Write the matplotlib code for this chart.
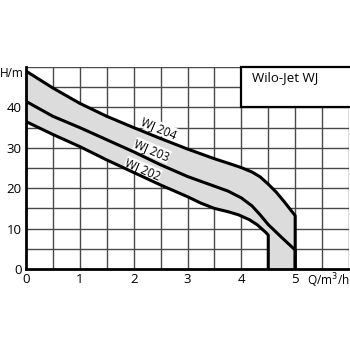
import matplotlib
matplotlib.use("Agg")
import matplotlib.pyplot as plt
from matplotlib.patches import Rectangle

# Data
q_204 = [0, 0.5, 1, 1.5, 2, 2.5, 3, 3.5, 3.8, 4, 4.2, 4.35, 4.5, 4.65, 4.8, 5]
h_204 = [49, 44.8, 41, 37.8, 35, 32.3, 29.7, 27.3, 26.0, 25.1, 24.0, 22.8, 21.0, 19.0, 16.6, 13.2]
q_203 = [0, 0.5, 1, 1.5, 2, 2.5, 3, 3.5, 3.75, 4, 4.2, 4.35, 4.5, 4.75, 5]
h_203 = [41.5, 37.8, 35, 32, 29, 25.8, 22.9, 20.5, 19.3, 17.6, 15.6, 13.4, 11.0, 7.8, 4.7]
q_202 = [0, 0.5, 1, 1.5, 2, 2.5, 3, 3.25, 3.5, 3.75, 3.95, 4.15, 4.3, 4.45, 4.5]
h_202 = [36.5, 33.3, 30.3, 27, 23.9, 20.8, 17.9, 16.3, 15.0, 14.2, 13.4, 12.2, 10.9, 9.1, 8.4]
x_ticks = [0, 1, 2, 3, 4, 5]
y_ticks = [0, 10, 20, 30, 40]
series_names = ["WJ 204", "WJ 203", "WJ 202"]
title_text = "Wilo-Jet WJ"

plt.rcParams['font.family'] = ['Open Sans', 'DejaVu Sans']

fig = plt.figure(figsize=(3.5, 3.5), dpi=100)
ax = fig.add_axes([0.0743, 0.2314, 0.9229, 0.5771])
ax.set_xlim(0, 6)
ax.set_ylim(0, 50)

# grid
for gx in [i * 0.5 for i in range(1, 13)]:
    ax.axvline(gx, color='#4a4a4a', lw=1.0, zorder=1)
for gy in range(5, 51, 5):
    ax.axhline(gy, color='#4a4a4a', lw=1.0, zorder=1)

# shaded band
poly_x = list(q_204) + [q_204[-1], q_202[-1]] + list(q_202[::-1])
poly_y = list(h_204) + [0, 0] + list(h_202[::-1])
ax.fill(poly_x, poly_y, color='#dcdcdc', zorder=2, lw=0)

lw = 2.2
for qs, hs in [(q_204, h_204), (q_203, h_203), (q_202, h_202)]:
    ax.plot(qs + [qs[-1]], hs + [0], color='black', lw=lw, zorder=4,
            solid_joinstyle='round', solid_capstyle='butt')

# curve labels
label_pos = [(2.47, 34.9), (2.34, 29.4), (2.17, 24.7)]
for name, (lx, ly) in zip(series_names, label_pos):
    ax.text(lx, ly, name, rotation=-23, ha='center', va='center', fontsize=8.5,
            zorder=3, bbox=dict(facecolor='white', edgecolor='none', pad=0.2))

# title box
ax.add_patch(Rectangle((4, 40), 2.2, 10, facecolor='white', edgecolor='black',
                       lw=1.6, zorder=5, clip_on=False))
ax.text(4.2, 47.3, title_text, ha='left', va='center', fontsize=9.5, zorder=6)

# spines and ticks
for s in ['top', 'right']:
    ax.spines[s].set_visible(False)
ax.spines['left'].set_linewidth(2)
ax.spines['bottom'].set_linewidth(2)
ax.spines['left'].set_zorder(7)
ax.spines['bottom'].set_zorder(7)
ax.set_xticks(x_ticks)
ax.set_yticks(y_ticks)
ax.tick_params(length=0, labelsize=9.5, pad=3)
ax.set_xticklabels([str(v) for v in x_ticks])
ax.set_yticklabels([str(v) for v in y_ticks])

ax.text(-0.04, 48.5, "H/m", ha='right', va='center', fontsize=8.5)
ax.text(5.22, -2.9, "Q/m$^3$/h", ha='left', va='center', fontsize=8.5)

fig.savefig("out.png", dpi=100)
